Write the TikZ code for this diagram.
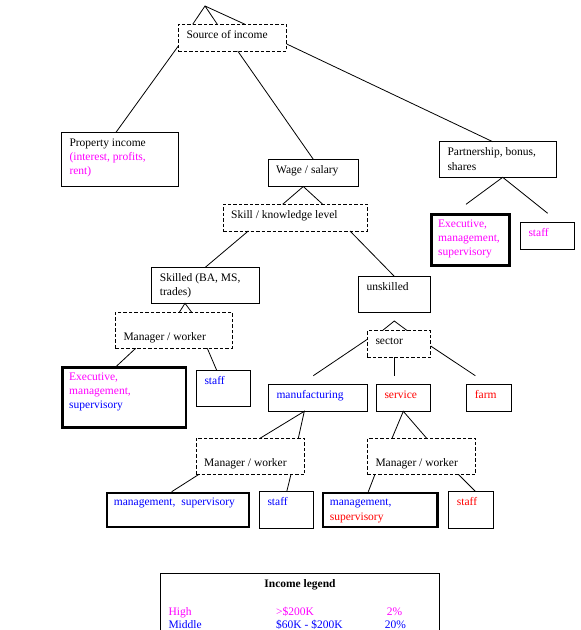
\documentclass[tikz,border=0pt]{standalone}
\usepackage{fontspec}
\setmainfont{Liberation Serif}
\definecolor{mag}{RGB}{255,0,255}
\definecolor{blu}{RGB}{0,0,255}
\definecolor{rd}{RGB}{255,0,0}
\begin{document}
\begin{tikzpicture}[x=1pt,y=-1pt,
  conn/.style={line width=0.8pt},
  bx/.style={anchor=north west, inner sep=0pt, outer sep=0pt},
  thinbox/.style={bx, draw, line width=0.8pt},
  dashbox/.style={bx, draw, line width=0.8pt, dash pattern=on 3.5pt off 2pt},
  thickbox/.style={bx, draw, line width=2.6pt},
  txt/.style={anchor=north west, inner sep=0pt, align=left, font=\fontsize{11.5}{14.2}\selectfont},
  lg/.style={anchor=base west, inner sep=0pt, font=\fontsize{11.5}{14.2}\selectfont},
  ]
\useasboundingbox (0,0) rectangle (581,630);

% ---- boxes ----
\node[dashbox, minimum width=108.4pt, minimum height=26.7pt] (src) at (178.3,24.3) {};
\node[thinbox, minimum width=117pt, minimum height=53.7pt] (prop) at (61.3,132.3) {};
\node[thinbox, minimum width=90.3pt, minimum height=27.2pt] (wage) at (268,159.3) {};
\node[thinbox, minimum width=117.4pt, minimum height=35.6pt] (part) at (439.3,141.7) {};
\node[thickbox, minimum width=78.4pt, minimum height=50.8pt] (execR) at (431.3,214.6) {};
\node[thinbox, minimum width=54.4pt, minimum height=26.3pt] (staffR) at (520.3,222.7) {};
\node[dashbox, minimum width=144.7pt, minimum height=26.7pt] (skill) at (223,204.3) {};
\node[thinbox, minimum width=107.6pt, minimum height=36pt] (skilled) at (151.7,267.3) {};
\node[thinbox, minimum width=72.4pt, minimum height=36.3pt] (unsk) at (358.3,276) {};
\node[dashbox, minimum width=117pt, minimum height=36pt] (mwL) at (115.3,312.3) {};
\node[thickbox, minimum width=123.7pt, minimum height=60.4pt] (execL) at (62.3,367.3) {};
\node[thinbox, minimum width=54.4pt, minimum height=35.7pt] (staffL) at (196.3,370.3) {};
\node[dashbox, minimum width=63.4pt, minimum height=26.6pt] (sector) at (367.3,330.7) {};
\node[thinbox, minimum width=99pt, minimum height=27pt] (manu) at (268.3,384.3) {};
\node[thinbox, minimum width=54.4pt, minimum height=27pt] (serv) at (376.3,384.3) {};
\node[thinbox, minimum width=44.6pt, minimum height=27pt] (farm) at (466.7,384.3) {};
\node[dashbox, minimum width=108.7pt, minimum height=36pt] (mwM) at (196,438.3) {};
\node[dashbox, minimum width=108.4pt, minimum height=36pt] (mwR) at (367.3,438.3) {};
\node[thickbox, minimum width=142pt, minimum height=34pt] (mgmtM) at (107,493) {};
\node[thinbox, minimum width=54pt, minimum height=36.6pt] (staffM) at (259.3,491.7) {};
\node[thickbox, minimum width=114.7pt, minimum height=34pt] (mgmtR) at (323,493) {};
\node[thinbox, minimum width=45pt, minimum height=36.6pt] (staffR2) at (448.7,491.7) {};
\node[thinbox, minimum width=278.6pt, minimum height=80pt] (legend) at (160.7,573.3) {};

% ---- texts ----
\node[txt] (srcT) at (186.3,28.4) {\strut Source of income};
\node[txt] (propT) at (69.3,136.4) {\strut Property income\\\textcolor{mag}{(interest, profits,}\\\textcolor{mag}{rent)}};
\node[txt] (wageT) at (276,163.4) {\strut Wage / salary};
\node[txt] (partT) at (447.3,145.8) {\strut Partnership, bonus,\\shares};
\node[txt, text=mag] (execRT) at (438,217.4) {\strut Executive,\\management,\\supervisory};
\node[txt, text=mag] (staffRT) at (528.3,226.8) {\strut staff};
\node[txt] (skillT) at (231,208.4) {\strut Skill / knowledge level};
\node[txt] (skilledT) at (159.7,271.4) {\strut Skilled (BA, MS,\\trades)};
\node[txt] (unskT) at (366.3,280.1) {\strut unskilled};
\node[txt] (mwLT) at (123.3,316.4) {\strut\\Manager / worker};
\node[txt] (execLT) at (69,370.1) {\strut\textcolor{mag}{Executive,}\\\textcolor{mag}{management,}\\\textcolor{blu}{supervisory}};
\node[txt, text=blu] (staffLT) at (204.3,374.4) {\strut staff};
\node[txt] (sectorT) at (375.3,334.8) {\strut sector};
\node[txt, text=blu] (manuT) at (276.3,388.4) {\strut manufacturing};
\node[txt, text=rd] (servT) at (384.3,388.4) {\strut service};
\node[txt, text=rd] (farmT) at (474.7,388.4) {\strut farm};
\node[txt] (mwMT) at (204,442.4) {\strut\\Manager / worker};
\node[txt] (mwRT) at (375.3,442.4) {\strut\\Manager / worker};
\node[txt, text=blu] (mgmtMT) at (113.7,495.8) {\strut management,\ \ supervisory};
\node[txt, text=blu] (staffMT) at (267.3,495.8) {\strut staff};
\node[txt] (mgmtRT) at (329.7,495.8) {\strut\textcolor{blu}{management,}\\\textcolor{rd}{supervisory}};
\node[txt, text=rd] (staffR2T) at (456.7,495.8) {\strut staff};

% ---- legend ----
\node[lg, anchor=base, font=\fontsize{11.5}{14.2}\selectfont\bfseries] (lgT) at (300,587.3) {Income legend};
\node[lg, text=mag] (lgH1) at (168.3,615) {High};
\node[lg, text=mag] (lgH2) at (276,615) {>\$200K};
\node[lg, text=mag] (lgH3) at (386.7,615) {2\%};
\node[lg, text=blu] (lgM1) at (168.3,628.3) {Middle};
\node[lg, text=blu] (lgM2) at (276,628.3) {\$60K - \$200K};
\node[lg, text=blu] (lgM3) at (384.6,628.3) {20\%};

% ---- connector end points ----
\coordinate (t0) at (205,6);
\coordinate (t1) at (192.7,24.3);
\coordinate (t2) at (217.3,24.3);
\coordinate (t3) at (245,24.3);
\coordinate (sp1) at (178.3,46);   \coordinate (pp1) at (116,132.3);
\coordinate (sw1) at (237.7,51);   \coordinate (ww1) at (313.3,159.3);
\coordinate (sq1) at (286.7,44);   \coordinate (qq1) at (492.7,141.7);
\coordinate (wa) at (303.3,186.5); \coordinate (wl) at (282.7,204.3); \coordinate (wr) at (322.7,204.3);
\coordinate (ks1) at (248.3,231);  \coordinate (ks2) at (205.3,267.3);
\coordinate (ku1) at (350,231);    \coordinate (ku2) at (394,276);
\coordinate (pa) at (502.7,177.3); \coordinate (pl) at (466,204.3); \coordinate (pr) at (547.7,213.3);
\coordinate (sa) at (185,303.3);   \coordinate (sl) at (179.3,312.3); \coordinate (sr) at (191.7,312.3);
\coordinate (me1) at (135.7,348.3); \coordinate (me2) at (116.7,366);
\coordinate (ms1) at (207.3,348.3); \coordinate (ms2) at (216.7,370.3);
\coordinate (ua) at (394.3,321);   \coordinate (ul) at (382.3,330.7); \coordinate (ur) at (407.3,330.7);
\coordinate (cm1) at (367.3,339.3); \coordinate (cm2) at (313.3,375.7);
\coordinate (cs1) at (394.3,357.3); \coordinate (cs2) at (394.3,375.7);
\coordinate (cf1) at (430.7,346);  \coordinate (cf2) at (475.3,375.7);
\coordinate (na) at (304.3,411.3); \coordinate (nl) at (260,438.3); \coordinate (nr) at (298.3,438.3);
\coordinate (va) at (403.3,411.3); \coordinate (vl) at (392,438.3); \coordinate (vr) at (426.7,438.3);
\coordinate (mm1) at (199,474.3);  \coordinate (mm2) at (171.7,491.7);
\coordinate (mt1) at (291,474.3);  \coordinate (mt2) at (286.7,491.7);
\coordinate (rm1) at (375,474.3);  \coordinate (rm2) at (368.3,491.7);
\coordinate (rt1) at (458.3,474.3); \coordinate (rt2) at (475.7,491.7);

% ---- connectors ----
\draw[conn] (t1) -- (t0) -- (t2) (t0) -- (t3);
\draw[conn] (sp1) -- (pp1);
\draw[conn] (sw1) -- (ww1);
\draw[conn] (sq1) -- (qq1);
\draw[conn] (wl) -- (wa) -- (wr);
\draw[conn] (ks1) -- (ks2);
\draw[conn] (ku1) -- (ku2);
\draw[conn] (pl) -- (pa) -- (pr);
\draw[conn] (sl) -- (sa) -- (sr);
\draw[conn] (me1) -- (me2);
\draw[conn] (ms1) -- (ms2);
\draw[conn] (ul) -- (ua) -- (ur);
\draw[conn] (cm1) -- (cm2);
\draw[conn] (cs1) -- (cs2);
\draw[conn] (cf1) -- (cf2);
\draw[conn] (nl) -- (na) -- (nr);
\draw[conn] (vl) -- (va) -- (vr);
\draw[conn] (mm1) -- (mm2);
\draw[conn] (mt1) -- (mt2);
\draw[conn] (rm1) -- (rm2);
\draw[conn] (rt1) -- (rt2);
\end{tikzpicture}
\end{document}
